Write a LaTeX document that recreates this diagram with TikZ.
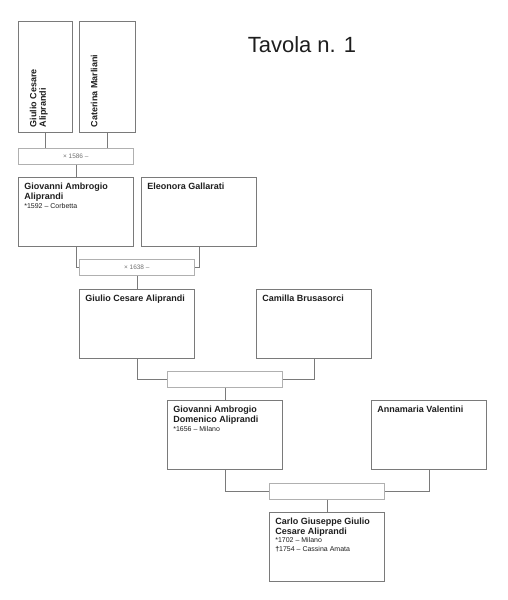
\documentclass[tikz,border=0pt]{standalone}
\usepackage{fontspec}
\setmainfont{Liberation Sans}
\usetikzlibrary{positioning, calc}
\definecolor{boxgray}{HTML}{7A7A7A}
\definecolor{wedgray}{HTML}{B0B0B0}
\definecolor{inkgray}{HTML}{1E1E1E}
\definecolor{notegray}{HTML}{707070}

% fixed size cell, text at the top left
\newcommand{\famcell}[3]{\parbox[t][#2][t]{#1}{\raggedright #3}}
\newcommand{\famnote}[1]{\par{\fontsize{7}{8}\selectfont\mdseries #1}}

\tikzset{
    personbox/.style={draw=boxgray, line width=0.6pt, anchor=north west, inner xsep=6pt, inner ysep=6pt, text=inkgray, font=\fontsize{9}{9.5}\selectfont\bfseries},
    tallbox/.style={personbox, rotate=90, inner xsep=5.5pt, inner ysep=11.5pt},
    weddingbox/.style={draw=wedgray, line width=0.6pt, anchor=north west, minimum width=115pt, minimum height=16pt, inner sep=0pt, text=notegray, font=\fontsize{6.5}{7}\selectfont},
    famline/.style={draw=boxgray, line width=0.6pt}
}

\begin{document}
\begin{tikzpicture}[x=1pt, y=-1pt]
    \useasboundingbox (0,0) rectangle (508,600);

    \node[anchor=base, text=inkgray, font=\fontsize{22}{26}\selectfont] (title) at (302,52) {Tavola n. 1};

    % generation 1 (rotated: west is the bottom edge)
    \node[tallbox] (gcaA) at (18,133) {\famcell{100pt}{31pt}{Giulio Cesare\\Aliprandi}};
    \node[tallbox] (cmarl) at (79,133) {\famcell{100pt}{33pt}{Caterina Marliani}};
    \node[weddingbox] (w1586) at (18,148) {× 1586 –};

    % generation 2
    \node[personbox] (gaaA) at (18,177) {\famcell{103pt}{57pt}{Giovanni Ambrogio\\Aliprandi\famnote{*1592 – Corbetta}}};
    \node[personbox] (egall) at (141,177) {\famcell{103pt}{57pt}{Eleonora Gallarati}};
    \node[weddingbox] (w1638) at (79,259) {× 1638 –};

    % generation 3
    \node[personbox] (gcaB) at (79,289) {\famcell{103pt}{57pt}{Giulio Cesare Aliprandi}};
    \node[personbox] (cbrus) at (256,289) {\famcell{103pt}{57pt}{Camilla Brusasorci}};
    \node[weddingbox] (wgen3) at (167,371) {};

    % generation 4
    \node[personbox] (gadA) at (167,400) {\famcell{103pt}{57pt}{Giovanni Ambrogio\\Domenico Aliprandi\famnote{*1656 – Milano}}};
    \node[personbox] (avale) at (371,400) {\famcell{103pt}{57pt}{Annamaria Valentini}};
    \node[weddingbox] (wgen4) at (269,483) {};

    % generation 5
    \node[personbox] (cggcA) at (269,512) {\famcell{103pt}{57pt}{Carlo Giuseppe Giulio\\Cesare Aliprandi\famnote{*1702 – Milano\\{\bfseries †}1754 – Cassina Amata}}};

    % connectors
    \draw[famline] (gcaA.west) -- (gcaA.west |- w1586.north);
    \draw[famline] (cmarl.west) -- (cmarl.west |- w1586.north);
    \draw[famline] (w1586.south) -- (gaaA.north);

    \draw[famline] (gaaA.south) |- (w1638.west);
    \draw[famline] (egall.south) |- (w1638.east);
    \draw[famline] (w1638.south) -- (gcaB.north);

    \draw[famline] (gcaB.south) |- (wgen3.west);
    \draw[famline] (cbrus.south) |- (wgen3.east);
    \draw[famline] (wgen3.south) -- (gadA.north);

    \draw[famline] (gadA.south) |- (wgen4.west);
    \draw[famline] (avale.south) |- (wgen4.east);
    \draw[famline] (wgen4.south) -- (cggcA.north);
\end{tikzpicture}
\end{document}
